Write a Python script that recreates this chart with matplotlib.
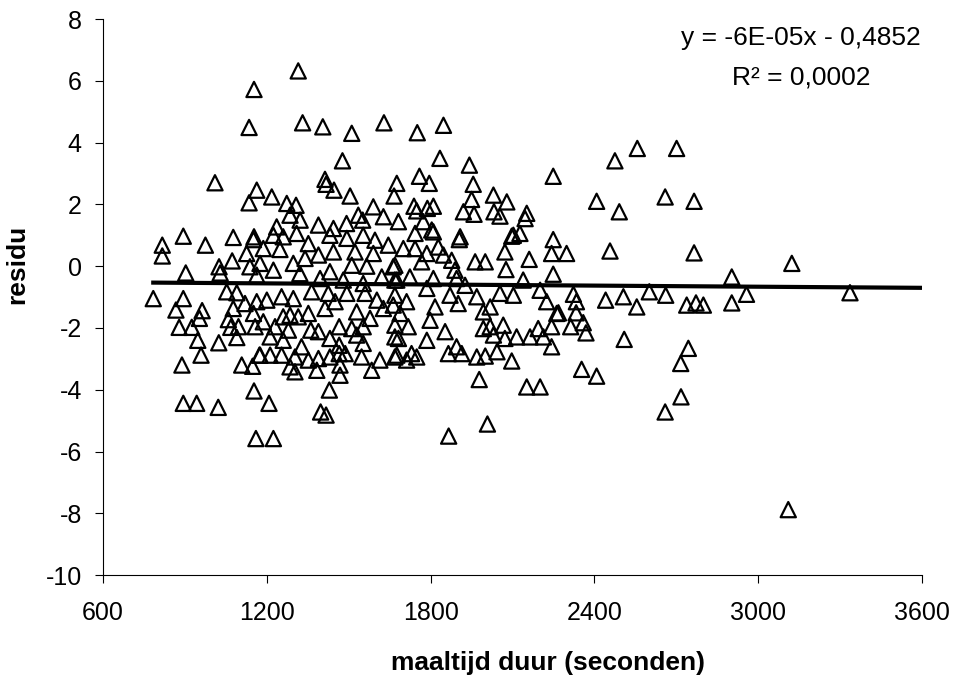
import numpy as np
import matplotlib
matplotlib.use("Agg")
import matplotlib.pyplot as plt

plt.rcParams['font.family'] = ['Liberation Sans', 'DejaVu Sans']
plt.rcParams['axes.unicode_minus'] = False

# maaltijd duur (s) en residu per maaltijd
duur = [
    1153, 1135, 1010, 1163, 1135,
    817, 894, 817, 975, 1077, 1151, 1126, 1073, 903, 1025, 1029, 1138,
    784, 894, 867, 963, 953, 1053, 1090, 1077, 1120, 1151, 1059, 1096,
    1068, 879, 925, 947, 1024, 1090, 1157, 959, 889, 1108, 1148, 1173,
    1153, 894, 943, 1022, 1160,
    1315, 1331, 1405, 1511, 1629, 1477, 1413, 1446, 1417, 1505, 1218,
    1676, 1666, 1590, 1627, 1535, 1551, 1492, 1389, 1273, 1307, 1285,
    1322, 1236, 1444, 1682, 1153,
    1224, 1260, 1309, 1352, 1187, 1248, 1431, 1493, 1553, 1596, 1645,
    1444, 1523, 1590, 1389, 1340, 1297, 1175, 1224, 1321, 1431, 1511,
    1566, 1621, 1663, 1163, 1395, 1480, 1553, 1676, 1364, 1254, 1297,
    1200, 1163, 1425, 1450, 1413, 1529, 1493, 1560, 1603, 1627, 1663,
    1352, 1285, 1315, 1260, 1187, 1230, 1279, 1212, 1361, 1389, 1465,
    1511, 1553, 1578, 1529, 1431, 1465, 1327, 1260, 1553, 1669, 1669,
    1175, 1212, 1254, 1303, 1352, 1389, 1431, 1465, 1487, 1547, 1614,
    1285, 1303, 1383, 1468, 1468, 1584, 1429, 1208, 1397, 1417, 1224,
    1751, 1847, 1834, 1942, 2249, 1759, 1795, 1956, 1950, 2030, 2079,
    1739, 1810, 1749, 1788, 1920, 1959, 2032, 2054, 2152, 2146, 1773,
    1804, 1743, 1908, 2103, 2127, 2249,
    1810, 1905, 2097, 1700, 1743, 1786, 1828, 1847, 1877, 1767, 1963,
    2000, 2072, 2161, 2243, 2076, 2249, 1669, 1724, 1810, 1889, 1895,
    2139, 2201, 1669, 1786, 1926, 1871, 1969, 2054, 2103, 2225, 1669,
    1712, 1816, 1901, 2018, 1993, 2262, 1688, 1798, 1669, 1718, 1853,
    1993, 2018, 2066, 2194, 2243, 2115, 2164, 2072, 2213, 1682, 1786,
    2030, 2243, 1895, 1676, 1730, 1749, 1712, 1865, 1914, 1969, 2000,
    2043, 2097, 1978, 2152, 2201, 2008, 1866,
    2557, 2701, 2475, 2408, 2491, 2659, 2765, 2298, 2457, 2765, 2323,
    2334, 2441, 2506, 2555, 2601, 2661, 2738, 2772, 2799, 2268, 2333,
    2313, 2359, 2369, 2509, 2744, 2716, 2353, 2408, 2717, 2659,
    3123, 2903, 2957, 2903, 3336, 3110,
]
residu = [
    5.72, 4.49, 2.70, 2.46, 2.05,
    0.68, 0.97, 0.33, 0.68, 0.93, 0.86, 0.41, 0.17, -0.22, -0.02, -0.22, -0.02,
    -1.05, -1.05, -1.42, -1.44, -1.69, -0.83, -0.86, -1.37, -1.21, -1.53, -1.73, -1.96,
    -1.98, -1.98, -1.98, -2.40, -2.48, -2.31, -1.96, -2.88, -3.20, -3.20, -3.24, -2.88,
    -4.04, -4.44, -4.44, -4.57, -5.58,
    6.32, 4.64, 4.51, 4.30, 4.64, 3.41, 2.81, 2.46, 2.65, 2.27, 2.24,
    2.68, 2.27, 1.92, 1.60, 1.65, 1.49, 1.38, 1.33, 2.03, 1.97, 1.65,
    1.49, 1.27, 1.22, 1.44, 0.95,
    1.00, 0.95, 1.06, 0.73, 0.57, 0.54, 1.00, 0.90, 1.00, 0.84, 0.68,
    0.46, 0.46, 0.41, 0.36, 0.25, 0.09, 0.09, -0.13, -0.24, -0.18, 0.03,
    0.00, -0.35, -0.02, -0.29, -0.40, -0.45, -0.56, -0.45, -0.83, -0.99, -1.05,
    -1.10, -1.15, -0.88, -1.15, -1.37, -1.48, -0.88, -0.88, -1.10, -1.37, -1.26,
    -1.53, -1.59, -1.64, -1.64, -1.80, -1.96, -2.07, -2.29, -2.07, -2.12, -1.96,
    -2.02, -1.96, -1.69, -2.23, -2.34, -2.56, -2.61, -2.40, -2.50, -2.29, -2.94,
    -2.88, -2.88, -2.88, -2.94, -3.04, -2.99, -2.94, -2.83, -2.83, -2.94, -3.04,
    -3.26, -3.42, -3.37, -3.20, -3.53, -3.37, -4.01, -4.44, -4.72, -4.82, -5.58,
    4.32, 4.56, 3.49, 3.27, 2.91, 2.91, 2.68, 2.65, 2.16, 2.30, 2.08,
    1.94, 1.94, 1.79, 1.87, 1.76, 1.68, 1.76, 1.62, 1.71, 1.54, 1.44,
    1.17, 1.06, 0.95, 1.00, 1.06, 0.86,
    1.11, 0.86, 0.97, 0.57, 0.57, 0.41, 0.62, 0.36, 0.19, 0.14, 0.14,
    0.14, 0.46, 0.22, 0.41, -0.11, -0.26, 0.03, -0.35, -0.40, -0.13, -0.40,
    -0.45, -0.78, -0.45, -0.72, -0.62, -0.94, -0.99, -0.88, -0.94, -1.15, -0.94,
    -1.15, -1.32, -1.21, -1.32, -1.48, -1.53, -1.53, -1.75, -1.91, -1.96, -2.12,
    -2.02, -1.96, -1.91, -2.02, -1.96, -2.29, -2.29, -2.34, -2.29, -2.34, -2.40,
    -2.23, -2.61, -2.61, -2.88, -2.83, -2.94, -3.04, -2.83, -2.83, -2.94, -2.91,
    -2.77, -3.07, -3.67, -3.91, -3.91, -5.11, -5.50,
    3.81, 3.81, 3.41, 2.10, 1.76, 2.24, 2.10, 0.41, 0.49, 0.43, -0.91,
    -1.15, -1.10, -0.99, -1.32, -0.83, -0.94, -1.26, -1.19, -1.26, -1.51, -1.51,
    -1.96, -1.83, -2.16, -2.37, -2.66, -3.15, -3.34, -3.56, -4.23, -4.72,
    0.09, -0.35, -0.91, -1.19, -0.86, -7.88,
]

# lineaire trendlijn
helling = -6e-05
snijpunt = -0.4852
r2_tekst = "0,0002"

fig = plt.figure(figsize=(9.54, 6.79), dpi=100)
ax = fig.add_axes([0.108, 0.153, 0.8585, 0.819])

ax.scatter(duur, residu, marker='^', s=120, facecolors='none',
           edgecolors='black', linewidths=1.6, zorder=3)

xl = np.array([min(duur), 3600])
ax.plot(xl, helling * xl + snijpunt, color='black', lw=3, zorder=4)

ax.set_xlim(600, 3600)
ax.set_ylim(-10, 8)
ax.set_xticks(np.arange(600, 3601, 600))
ax.set_yticks(np.arange(-10, 9, 2))
ax.tick_params(direction='out', length=5.8, width=0.8, labelsize=18)
ax.tick_params(axis='y', pad=9.5)
ax.tick_params(axis='x', pad=12.5)
for s in ['top', 'right']:
    ax.spines[s].set_visible(False)
for s in ['left', 'bottom']:
    ax.spines[s].set_linewidth(0.8)

# astitels
fig.text(548 / 954, 1 - 663 / 679, 'maaltijd duur (seconden)', fontsize=19,
         fontweight='bold', ha='center', va='center')
fig.text(17 / 954, 1 - 264 / 679, 'residu', fontsize=19, fontweight='bold',
         rotation=90, ha='center', va='center')

fig.text(801 / 954, 1 - 38 / 679, 'y = -6E-05x - 0,4852', fontsize=19,
         ha='center', va='center')
fig.text(801 / 954, 1 - 77 / 679, 'R² = ' + r2_tekst, fontsize=19,
         ha='center', va='center')

fig.savefig('out.png', dpi=100)
